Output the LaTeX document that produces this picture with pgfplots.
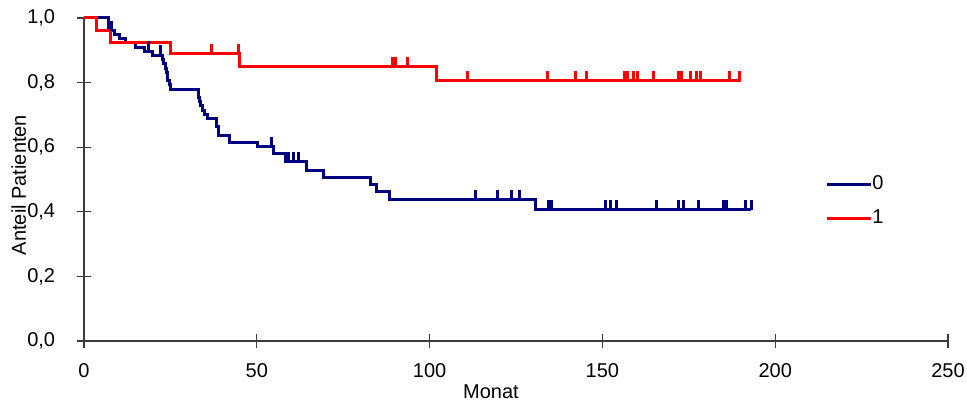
\documentclass[border=0pt]{standalone}
\usepackage{fontspec}
\setmainfont{Liberation Sans}
\usepackage{pgfplots}
\pgfplotsset{compat=1.18}

\definecolor{kmblue}{RGB}{0,0,128}
\definecolor{kmred}{RGB}{255,0,0}
\definecolor{axgray}{RGB}{60,60,60}

% censoring tick: short vertical stroke upward from the curve
\pgfdeclareplotmark{cens}{%
  \pgfpathmoveto{\pgfpoint{0pt}{0pt}}%
  \pgfpathlineto{\pgfpoint{0pt}{5bp}}%
  \pgfusepathqstroke}

\begin{document}
\begin{tikzpicture}
\begin{axis}[
  at={(0,0)}, anchor=south west,
  scale only axis, width=432bp, height=161.5bp,
  xmin=0, xmax=250, ymin=0, ymax=1,
  axis x line*=bottom, axis y line*=left,
  axis line style={axgray, line width=0.6bp},
  xtick={0,50,100,150,200,250}, ytick={0,0.2,0.4,0.6,0.8,1},
  tick style={axgray, line width=0.6bp},
  major tick length=6.5bp, tick align=center,
  tick label style={font=\fontsize{10bp}{12bp}\selectfont, inner sep=0pt},
  /pgf/number format/assume math mode=true,
  xticklabel style={anchor=north, yshift=-8bp},
  yticklabel style={anchor=east, xshift=-11bp,
    /pgf/number format/.cd, use comma, fixed, fixed zerofill, precision=1},
  xlabel={Monat}, ylabel={Anteil Patienten},
  label style={font=\fontsize{10bp}{12bp}\selectfont, inner sep=0pt},
  xlabel style={at={(axis description cs:0.471,0)}, anchor=north, yshift=-21.5bp},
  ylabel style={at={(axis description cs:-0.0845,0.483)}, anchor=north},
  clip=false,
  legend style={draw=none, fill=none, inner sep=0pt, row sep=8.5bp,
    font=\fontsize{10bp}{12bp}\selectfont,
    at={(axis cs:214.4,0.433)}, anchor=west,
    nodes={inner sep=0pt}},
  legend cell align=left,
  legend image code/.code={\draw[#1] (0bp,0bp) -- (22bp,0bp);},
]
% group 0 (blue)
\addplot[kmblue, line width=1.5bp, const plot, mark=none] coordinates {
 (0,1.000)(7.0,0.961)(8.7,0.948)(10.4,0.936)(11.9,0.923)(14.8,0.910)
 (17.6,0.897)(19.7,0.885)(22.6,0.871)(23.1,0.858)(23.6,0.845)(24.0,0.832)
 (24.3,0.806)(24.6,0.793)(24.9,0.780)(33.0,0.754)(33.4,0.741)(33.8,0.728)
 (34.3,0.715)(35.0,0.702)(35.8,0.689)(38.3,0.663)(39.0,0.637)(42.2,0.616)
 (50.1,0.601)(54.8,0.580)(58.2,0.555)(64.4,0.529)(69.3,0.507)(82.8,0.483)
 (84.7,0.462)(88.3,0.437)(130.5,0.406)(193.0,0.406)};
\addlegendentry{0}
% group 1 (red)
\addplot[kmred, line width=1.5bp, const plot, mark=none] coordinates {
 (0,1.000)(3.5,0.961)(7.6,0.923)(25.1,0.889)(45.0,0.849)(102.0,0.805)(190.0,0.805)};
\addlegendentry{1}
% censored observations
\addplot[kmblue, line width=1.5bp, only marks, mark=cens, forget plot] coordinates {
 (7.9,0.961)(18.7,0.897)(22.0,0.885)(54.3,0.601)(59.1,0.555)(60.6,0.555)(62.0,0.555)
 (113.4,0.437)(119.7,0.437)(123.6,0.437)(126.0,0.437)
 (134.4,0.406)(135.2,0.406)(151.0,0.406)(152.2,0.406)(154.0,0.406)(165.7,0.406)
 (172.0,0.406)(173.4,0.406)(177.8,0.406)(185.0,0.406)(186.0,0.406)(191.5,0.406)(193.0,0.406)};
\addplot[kmred, line width=1.5bp, only marks, mark=cens, forget plot] coordinates {
 (36.9,0.889)(44.6,0.889)(89.3,0.849)(90.1,0.849)(93.6,0.849)
 (110.9,0.805)(134.1,0.805)(142.1,0.805)(145.5,0.805)(156.5,0.805)(157.2,0.805)
 (159.1,0.805)(160.1,0.805)(164.7,0.805)(172.0,0.805)(172.9,0.805)(175.6,0.805)
 (177.3,0.805)(178.4,0.805)(186.7,0.805)(189.8,0.805)};
\end{axis}
\pgfresetboundingbox
\useasboundingbox (-42bp,-30bp) rectangle (441.5bp,170.5bp);
\end{tikzpicture}
\end{document}
